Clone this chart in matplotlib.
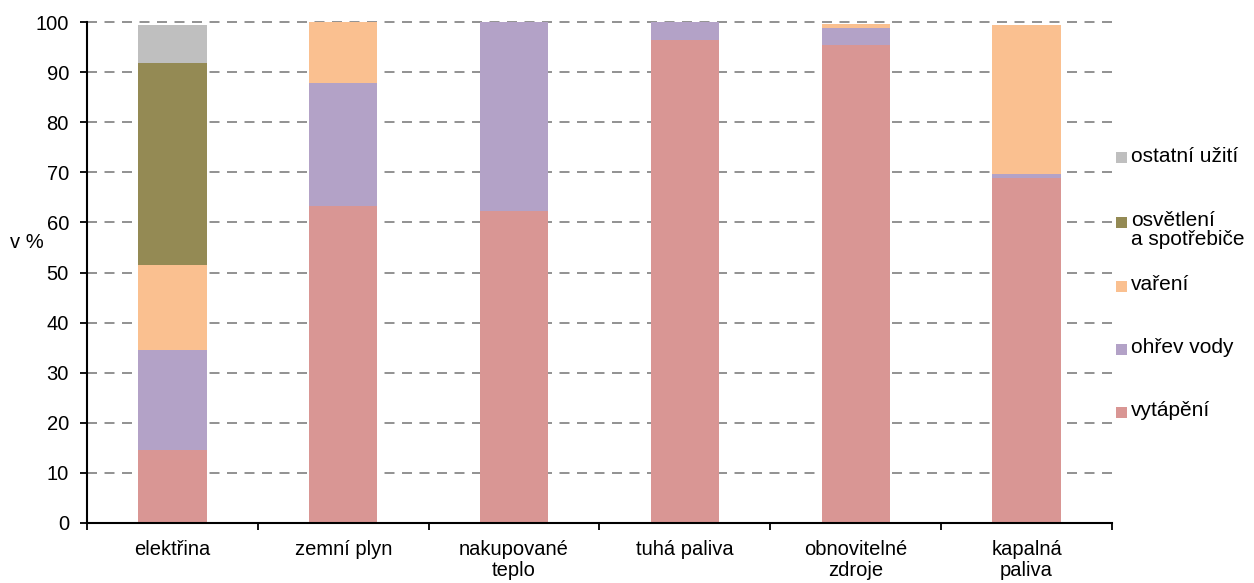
import matplotlib
matplotlib.use("Agg")
import matplotlib.pyplot as plt
from matplotlib.patches import Rectangle
import numpy as np

plt.rcParams['font.family'] = ['Liberation Sans', 'DejaVu Sans']

categories = ["elektřina", "zemní plyn", "nakupované\nteplo", "tuhá paliva",
              "obnovitelné\nzdroje", "kapalná\npaliva"]

vytapeni = [14.5, 63.3, 62.3, 96.5, 95.4, 68.9]
ohrev_vody = [20.0, 24.5, 37.7, 3.5, 3.5, 0.8]
vareni = [17.0, 12.2, 0.0, 0.0, 0.7, 29.7]
osvetleni = [40.4, 0.0, 0.0, 0.0, 0.0, 0.0]
ostatni = [7.6, 0.0, 0.0, 0.0, 0.0, 0.0]

series_names = ["vytápění", "ohřev vody", "vaření", "osvětlení\na spotřebiče", "ostatní užití"]
series_values = [vytapeni, ohrev_vody, vareni, osvetleni, ostatni]
colors = ["#D99694", "#B3A2C7", "#FAC090", "#948A54", "#BFBFBF"]

FS = 14.5
W, H = 1254, 583
fig = plt.figure(figsize=(W / 100, H / 100), dpi=100)
ax = fig.add_axes([87 / W, (H - 523) / H, (1112 - 87) / W, (523 - 22) / H])

x = np.arange(len(categories))
bottom = np.zeros(len(categories))
for name, vals, c in zip(series_names, series_values, colors):
    vals = np.array(vals)
    ax.bar(x, vals, width=0.4, bottom=bottom, color=c, edgecolor='none', zorder=3, label=name)
    bottom += vals

ax.set_xlim(-0.5, len(categories) - 0.5)
ax.set_ylim(0, 100)
ax.set_yticks(np.arange(0, 101, 10))
ax.grid(False)
for yv in np.arange(10, 101, 10):
    ax.axhline(yv, color='#7F7F7F', linewidth=1.2, linestyle=(0, (6, 4.5)), zorder=1, clip_on=False)

ax.set_xticks(x)
ax.set_xticklabels(categories, linespacing=1.12)
ax.set_xticks(np.arange(-0.5, len(categories), 1.0), minor=True)
ax.tick_params(axis='x', which='major', length=0, pad=12.5, labelsize=FS, colors='black')
ax.tick_params(axis='x', which='minor', length=5, width=1.3, direction='out', color='black')
ax.tick_params(axis='y', which='major', length=5, width=1.3, pad=8, labelsize=FS, colors='black')

for s in ['top', 'right']:
    ax.spines[s].set_visible(False)
for s in ['left', 'bottom']:
    ax.spines[s].set_linewidth(1.5)
    ax.spines[s].set_color('black')
    ax.spines[s].set_zorder(4)

fig.text(10 / W, 1 - 243 / H, "v %", ha='left', va='center', fontsize=FS)

# legend (reverse order), manual layout matching reference
leg_y = [412, 349, 286, 222, 158]
for name, c, yy in zip(series_names, colors, leg_y):
    fig.patches.append(Rectangle((1116 / W, 1 - (yy + 5.5) / H), 11 / W, 11 / H,
                                 transform=fig.transFigure, facecolor=c, edgecolor='none'))
    fig.text(1131 / W, 1 - (yy - 11) / H, name, ha='left', va='top', fontsize=15,
             linespacing=1.0)

fig.savefig("out.png", dpi=100)
